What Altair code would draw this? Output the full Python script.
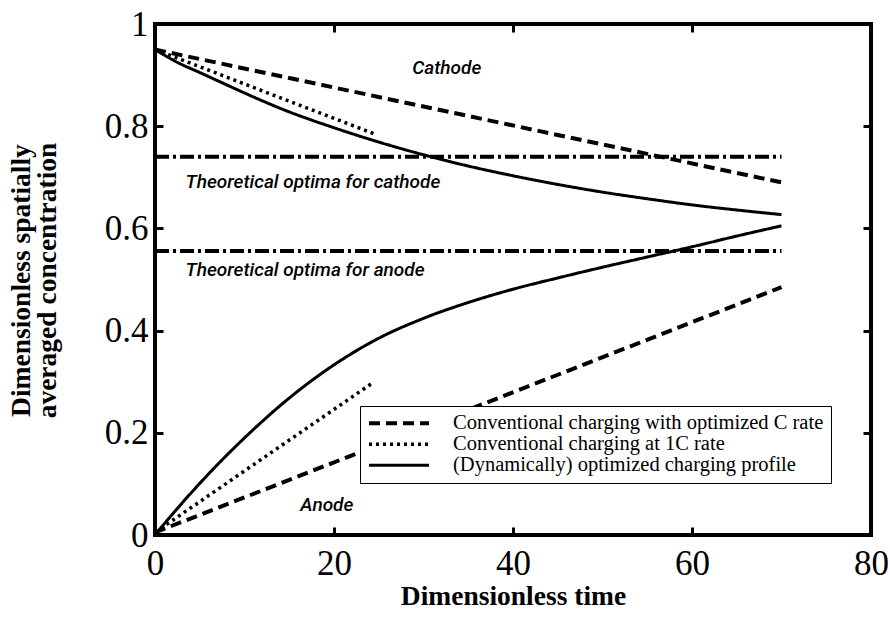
import altair as alt
import pandas as pd

# ---------------- data ----------------
x_ticks = [0, 20, 40, 60, 80]
y_ticks = [0, 0.2, 0.4, 0.6, 0.8, 1]
inner_x_ticks = [20, 40, 60]
inner_y_ticks = [0.2, 0.4, 0.6, 0.8]

series_names = [
    "Conventional charging with optimized C rate",
    " Conventional charging at 1C rate",
    "(Dynamically) optimized charging profile",
]

# conventional charging with optimized C rate (dashed)
t_copt = [0, 70]
cath_copt = [0.95, 0.69]
anode_copt = [0.005, 0.485]

# conventional charging at 1C rate (dotted)
t_1c = [0, 24.5]
cath_1c = [0.95, 0.785]
anode_1c = [0.005, 0.30]

# dynamically optimized profile (solid)
t_dyn = [0, 2.5, 5, 7.5, 10, 15, 20, 25, 30, 35, 40, 45, 50, 55, 60, 65, 70]
cath_dyn = [0.95, 0.925, 0.905, 0.885, 0.865, 0.828, 0.797, 0.769, 0.744,
            0.722, 0.703, 0.686, 0.671, 0.658, 0.646, 0.636, 0.627]
anode_dyn = [0.0, 0.052, 0.101, 0.147, 0.19, 0.268, 0.333, 0.385, 0.424,
             0.455, 0.481, 0.503, 0.524, 0.544, 0.564, 0.585, 0.605]

# theoretical optima (dash-dot)
optima_t = [0, 70]
optima_cath = 0.74
optima_anode = 0.556

# annotations
ann_text = ["Cathode", "Theoretical optima for cathode",
            "Theoretical optima for anode", "Anode"]
ann_t = [32.6, 3.4, 3.4, 19.2]
ann_c = [0.914, 0.691, 0.519, 0.059]
ann_align = ["center", "left", "left", "center"]

# ---------------- tables ----------------
rows = []
for name, ts, cs, an in [
    (series_names[0], t_copt, cath_copt, anode_copt),
    (series_names[1], t_1c, cath_1c, anode_1c),
    (series_names[2], t_dyn, cath_dyn, anode_dyn),
]:
    for t, c in zip(ts, cs):
        rows.append({"series": name, "electrode": "cathode", "t": t, "c": c})
    for t, c in zip(ts, an):
        rows.append({"series": name, "electrode": "anode", "t": t, "c": c})
df = pd.DataFrame(rows)

opt_rows = []
for t in optima_t:
    opt_rows.append({"electrode": "cathode", "t": t, "c": optima_cath})
    opt_rows.append({"electrode": "anode", "t": t, "c": optima_anode})
df_opt = pd.DataFrame(opt_rows)

df_ann = pd.DataFrame({"text": ann_text, "t": ann_t, "c": ann_c, "align": ann_align})

serif = "Liberation Serif"
narrow = "Roboto, Liberation Sans Narrow, sans-serif"

xscale = alt.Scale(domain=[0, 80], nice=False, zero=False)
yscale = alt.Scale(domain=[0, 1], nice=False, zero=False)

ax_x_main = alt.Axis(
    orient="bottom", values=x_ticks, format="d", ticks=False, tickSize=0,
    domain=False, grid=False, labelFlush=False,
    labelFont=serif, labelFontSize=35, labelColor="black", labelPadding=11,
    title="Dimensionless time", titleFont=serif, titleFontSize=27.5,
    titleFontWeight="bold", titleColor="black", titleBaseline="middle", titleY=61,
)
ax_y_main = alt.Axis(
    orient="left", values=y_ticks, format="~g", ticks=False, tickSize=0,
    domain=False, grid=False,
    labelFont=serif, labelFontSize=35, labelColor="black", labelPadding=7,
    title=["Dimensionless spatially", "averaged concentration"],
    titleFont=serif, titleFontSize=27.5, titleFontWeight="bold", titleColor="black",
    titleAngle=270, titleBaseline="middle", titleAlign="center",
    titleX=-134, titleY=256, titleLineHeight=26,
)


def tick_axis(orient, vals):
    return alt.Axis(orient=orient, offset=-8, values=vals, labels=False,
                    domain=False, grid=False, ticks=True, tickSize=8,
                    tickWidth=3, tickColor="black", title=None)


lines = alt.Chart(df).mark_line(
    color="black", strokeCap="butt", interpolate="monotone"
).encode(
    x=alt.X("t:Q", scale=xscale, axis=ax_x_main),
    y=alt.Y("c:Q", scale=yscale, axis=ax_y_main),
    strokeDash=alt.StrokeDash(
        "series:N",
        scale=alt.Scale(domain=series_names, range=[[11, 6], [3, 4], [1, 0]]),
        legend=alt.Legend(
            title=None, orient="none", legendX=205, legendY=382,
            symbolType="stroke", symbolSize=3600, symbolStrokeWidth=4,
            symbolStrokeColor="black", labelFont=serif, labelFontSize=20.5,
            labelColor="black", labelOffset=22, labelLimit=0, clipHeight=20.5,
            rowPadding=0, padding=7, fillColor="white", strokeColor="black",
        ),
    ),
    strokeWidth=alt.StrokeWidth(
        "series:N",
        scale=alt.Scale(domain=series_names, range=[4, 3, 3.5]),
        legend=None,
    ),
    detail="electrode:N",
    order="t:Q",
)

optima = alt.Chart(df_opt).mark_line(
    color="black", strokeWidth=4, strokeDash=[14, 4, 3, 4], strokeCap="butt"
).encode(
    x=alt.X("t:Q", scale=xscale, axis=tick_axis("bottom", inner_x_ticks)),
    y=alt.Y("c:Q", scale=yscale, axis=tick_axis("left", inner_y_ticks)),
    detail="electrode:N",
)

text_style = dict(font=narrow, fontSize=19, fontStyle="italic", fontWeight=500,
                  color="black", baseline="middle")

labels_left = alt.Chart(df_ann).transform_filter(
    alt.datum.align == "left"
).mark_text(align="left", **text_style).encode(
    x=alt.X("t:Q", scale=xscale, axis=tick_axis("top", inner_x_ticks)),
    y=alt.Y("c:Q", scale=yscale, axis=tick_axis("right", inner_y_ticks)),
    text="text:N",
)

labels_center = alt.Chart(df_ann).transform_filter(
    alt.datum.align == "center"
).mark_text(align="center", **text_style).encode(
    x=alt.X("t:Q", scale=xscale, axis=None),
    y=alt.Y("c:Q", scale=yscale, axis=None),
    text="text:N",
)

chart = (
    alt.layer(lines, optima, labels_left, labels_center)
    .resolve_axis(x="independent", y="independent")
    .properties(
        width=716, height=511,
        autosize=alt.AutoSizeParams(type="none"),
        padding={"left": 155, "top": 24, "right": 19, "bottom": 91},
        background="white",
    )
    .configure_view(stroke="black", strokeWidth=4)
)

chart.save("out.html", embed_options={"renderer": "svg", "actions": False})
